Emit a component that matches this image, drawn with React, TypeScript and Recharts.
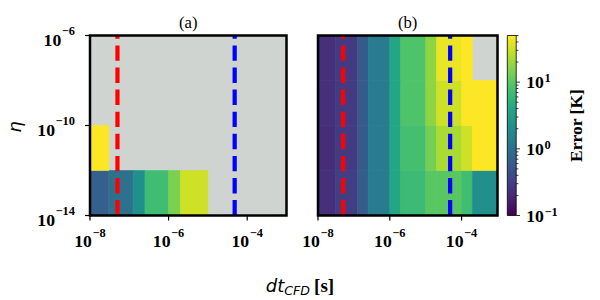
import React from 'react';
import { ComposedChart, XAxis, YAxis, ReferenceArea, ReferenceLine, Scatter } from 'recharts';

// ---- data ----
const dtEdges = [1e-8, 3e-8, 1.25e-7, 2.5e-7, 1e-6, 2e-6, 1e-5, 2e-5, 1e-4, 2e-4, 1e-3];
const etaEdges = [1e-14, 1e-12, 1e-10, 1e-8, 1e-6];
const xTicks = [1e-8, 1e-6, 1e-4];
const yTicks = [1e-14, 1e-10, 1e-6];
const cbMajorTicks = [0.1, 1, 10];
const cbMinorTicks = [0.2, 0.3, 0.4, 0.5, 0.6, 0.7, 0.8, 0.9, 2, 3, 4, 5, 6, 7, 8, 9, 20, 30, 40, 50];
const errMin = 0.1;
const errMax = 50;
const dtRed = 5e-8;
const dtBlue = 4.8e-5;
// rows: bottom (eta 1e-14..1e-12) to top (1e-8..1e-6); null = no data
const errorA0 = [0.65, 1.0, 2.2, 7.3, 14.4, 32, null, null, null, null];
const errorA1 = [55, null, null, null, null, null, null, null, null, null];
const errorA2 = [null, null, null, null, null, null, null, null, null, null];
const errorA3 = [null, null, null, null, null, null, null, null, null, null];
const errorB0 = [0.23, 0.31, 0.6, 1.3, 3.9, 6.8, 9.9, 9.9, 7.3, 2.2];
const errorB1 = [0.22, 0.29, 0.57, 1.28, 3.9, 7.7, 13.6, 22.3, 32, 55];
const errorB2 = [0.23, 0.29, 0.57, 1.28, 3.9, 8.8, 17.4, 32, 55, 55];
const errorB3 = [0.23, 0.29, 0.57, 1.28, 3.9, 8.8, 17.4, 41.5, 55, null];
const gridA = [errorA0, errorA1, errorA2, errorA3];
const gridB = [errorB0, errorB1, errorB2, errorB3];

// ---- colour map ----
const VIRIDIS = ['#440154', '#482475', '#414487', '#355f8d', '#2a788e', '#21918c', '#22a884', '#44bf70', '#7ad151', '#bddf26', '#fde725'];
const hex = (h: string) => [1, 3, 5].map((i) => parseInt(h.slice(i, i + 2), 16));
function viridis(t: number) {
  const tt = Math.max(0, Math.min(1, t)) * 10;
  const i = Math.min(9, Math.floor(tt));
  const f = tt - i;
  const a = hex(VIRIDIS[i]);
  const b = hex(VIRIDIS[i + 1]);
  const c = a.map((v, k) => Math.round(v + (b[k] - v) * f));
  return `rgb(${c[0]},${c[1]},${c[2]})`;
}
const lmin = Math.log10(errMin);
const lmax = Math.log10(errMax);
const colorFor = (v: number) => viridis((Math.log10(v) - lmin) / (lmax - lmin));

const L = Math.log10;
const SERIF = 'Liberation Serif';
const SANS = 'DejaVu Sans';
const NAN_GREY = '#d0d4d1';

const expStr = (e: number) => (e < 0 ? '\u2212' + Math.abs(e) : String(e));

const Pow = ({ x, y, e, anchor, size = 17.7, sup = 12.4, raise = 10.3 }: any) => (
  <text x={x} y={y} textAnchor={anchor} style={{ fontFamily: SERIF, fontWeight: 'bold' }} fill="#000">
    <tspan style={{ fontSize: size }}>10</tspan>
    <tspan style={{ fontSize: sup }} dy={-raise} dx={0.5}>{expStr(e)}</tspan>
  </text>
);

const XTick = (p: any) => <Pow x={p.x} y={p.y + 26.8} e={Math.round(p.payload.value)} anchor="middle" />;
const YTick = (p: any) => <Pow x={p.x - 10} y={p.y + 10} e={Math.round(p.payload.value)} anchor="end" />;

const CbTick = (p: any) => {
  const v = p.payload.value;
  const major = Math.abs(v - Math.round(v)) < 1e-9;
  return (
    <g>
      <line x1={p.x} x2={p.x + (major ? 3.8 : 2.2)} y1={p.y} y2={p.y} stroke="#000" strokeWidth={0.8} />
      {major && <Pow x={p.x + 10} y={p.y + 6.3} e={Math.round(v)} anchor="start" raise={6} />}
    </g>
  );
};

const NoShape = () => null;

function Panel({ grid, left, right, showY, children }: any) {
  const xd = [L(dtEdges[0]), L(dtEdges[dtEdges.length - 1])];
  const yd = [L(etaEdges[0]), L(etaEdges[etaEdges.length - 1])];
  const corners = [
    { x: xd[0], y: yd[0] },
    { x: xd[1], y: yd[1] },
  ];
  const cells: any[] = [];
  grid.forEach((row: (number | null)[], r: number) =>
    row.forEach((v, c) => {
      if (v == null) return;
      const col = colorFor(v);
      cells.push(
        <ReferenceArea
          key={`c${r}-${c}`}
          x1={L(dtEdges[c])}
          x2={L(dtEdges[c + 1])}
          y1={L(etaEdges[r])}
          y2={L(etaEdges[r + 1])}
          fill={col}
          fillOpacity={1}
          stroke={col}
          strokeWidth={0.6}
          ifOverflow="visible"
        />
      );
    })
  );
  const vline = (dt: number, color: string) => (
    <ReferenceLine
      segment={[
        { x: L(dt), y: yd[0] },
        { x: L(dt), y: yd[1] },
      ]}
      stroke={color}
      strokeWidth={4.2}
      strokeDasharray="15.4 6.7"
    />
  );
  return (
    <ComposedChart
      width={600}
      height={300}
      data={corners}
      margin={{ top: 35.5, left: showY ? left - 60 : left, right: 600 - right, bottom: 54.5 }}
      style={{ position: 'absolute', left: 0, top: 0 }}
    >
      <XAxis
        type="number"
        dataKey="x"
        domain={xd}
        ticks={xTicks.map(L)}
        allowDataOverflow
        height={30}
        tickSize={5}
        tickMargin={0}
        interval={0}
        axisLine={false}
        tickLine={{ stroke: '#000', strokeWidth: 1.2 }}
        tick={(p: any) => <XTick {...p} />}
      />
      <YAxis
        type="number"
        dataKey="y"
        domain={yd}
        ticks={yTicks.map(L)}
        allowDataOverflow
        hide={!showY}
        width={60}
        tickSize={5}
        tickMargin={0}
        interval={0}
        axisLine={false}
        tickLine={{ stroke: '#000', strokeWidth: 1.2 }}
        tick={(p: any) => <YTick {...p} />}
      />
      <Scatter dataKey="y" shape={NoShape} isAnimationActive={false} />
      <ReferenceArea x1={xd[0]} x2={xd[1]} y1={yd[0]} y2={yd[1]} fill={NAN_GREY} fillOpacity={1} stroke="none" />
      {cells}
      {vline(dtRed, '#ff0000')}
      {vline(dtBlue, '#0000ff')}
      <ReferenceArea x1={xd[0]} x2={xd[1]} y1={yd[0]} y2={yd[1]} fill="none" stroke="#000" strokeWidth={2.5} zIndex={1000} />
      {children}
    </ComposedChart>
  );
}

function ColorBar() {
  const all = [...cbMajorTicks, ...cbMinorTicks].sort((a, b) => a - b).map(L);
  const corners = [
    { x: 0, y: lmin },
    { x: 1, y: lmax },
  ];
  return (
    <ComposedChart
      width={600}
      height={300}
      data={corners}
      margin={{ top: 35.5, left: 507.3, right: 600 - 516.2 - 40, bottom: 84.5 }}
      style={{ position: 'absolute', left: 0, top: 0 }}
    >
      <defs>
        <linearGradient id="cbgrad" x1="0" y1="1" x2="0" y2="0">
          {VIRIDIS.map((c, i) => (
            <stop key={i} offset={i / 10} stopColor={c} />
          ))}
        </linearGradient>
      </defs>
      <XAxis type="number" dataKey="x" domain={[0, 1]} hide allowDataOverflow />
      <YAxis
        type="number"
        dataKey="y"
        orientation="right"
        domain={[lmin, lmax]}
        ticks={all}
        allowDataOverflow
        width={40}
        tickSize={0}
        tickMargin={0}
        interval={0}
        axisLine={false}
        tickLine={false}
        tick={(p: any) => <CbTick {...p} />}
      />
      <Scatter dataKey="y" shape={NoShape} isAnimationActive={false} />
      <ReferenceArea x1={0} x2={1} y1={lmin} y2={lmax} fill="url(#cbgrad)" fillOpacity={1} stroke="#000" strokeWidth={0.8} />
      <text
        x={582}
        y={125.5}
        transform="rotate(-90 582 125.5)"
        textAnchor="middle"
        style={{ fontFamily: SERIF, fontWeight: 'bold', fontSize: 17.5 }}
        fill="#000"
      >
        Error [K]
      </text>
    </ComposedChart>
  );
}

export default function App() {
  return (
    <div style={{ position: 'absolute', left: 0, top: 0, width: 600, height: 300, background: '#fff' }}>
      <Panel grid={gridA} left={90} right={286.5} showY>
        <text x={188.3} y={27.5} textAnchor="middle" style={{ fontFamily: SERIF, fontSize: 16.7 }} fill="#000">(a)</text>
        <text x={407.7} y={27.5} textAnchor="middle" style={{ fontFamily: SERIF, fontSize: 16.7 }} fill="#000">(b)</text>
        <text x={21} y={127} transform="rotate(-90 21 127)" textAnchor="middle" style={{ fontFamily: SANS, fontStyle: 'italic', fontSize: 18 }} fill="#000">
          η
        </text>
        <text x={300} y={291.5} textAnchor="middle" fill="#000">
          <tspan style={{ fontFamily: SANS, fontStyle: 'italic', fontSize: 18 }}>dt</tspan>
          <tspan style={{ fontFamily: SANS, fontStyle: 'italic', fontSize: 12.6 }} dy={3.5}>CFD</tspan>
          <tspan style={{ fontFamily: SERIF, fontWeight: 'bold', fontSize: 19 }} dy={-3.5} dx={4}>[s]</tspan>
        </text>
      </Panel>
      <Panel grid={gridB} left={318} right={497.5} showY={false} />
      <ColorBar />
    </div>
  );
}
